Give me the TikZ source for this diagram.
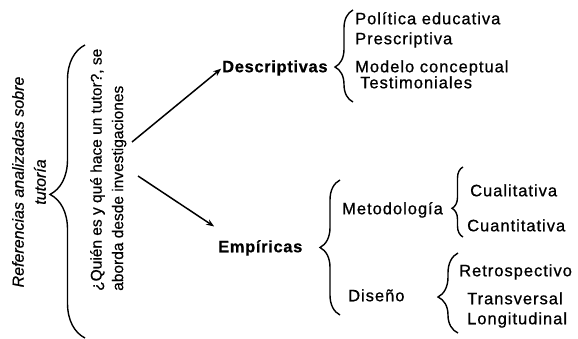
\documentclass[tikz,border=0pt]{standalone}
\usepackage{fontspec}
\setmainfont{Liberation Sans}
\newfontfamily\spacedfont[LetterSpace=6,FakeBold=0.8]{Liberation Sans}
\newfontfamily\headfont[LetterSpace=4,FakeBold=0.6]{Liberation Sans Bold}
\newfontfamily\rotfont[FakeBold=0.5]{Liberation Sans}
\usetikzlibrary{decorations.pathreplacing,arrows.meta}
\begin{document}
\begin{tikzpicture}[x=1pt,y=-1pt,
 item/.style={anchor=west,inner sep=0pt,font=\spacedfont\fontsize{16.5}{20}\selectfont,text height=12pt,text depth=3.5pt},
 head/.style={anchor=west,inner sep=0pt,font=\headfont\fontsize{16.5}{20}\selectfont,text height=12pt,text depth=3.5pt},
 brc/.style args={#1/#2}{decorate,decoration={brace,amplitude=#1,aspect=#2},line width=1.4pt},
 arr/.style={-{Stealth[length=8pt,width=6pt]},line width=1.5pt,shorten >=1pt},
 ]
\useasboundingbox[fill=white] (0,0) rectangle (578,339);
% rotated texts
\node[rotate=90, anchor=center, align=center, inner sep=0pt, font=\rotfont\itshape\fontsize{16}{22}\selectfont] (ref) at (29,182) {Referencias analizadas sobre\\tutoría};
\node[rotate=90, anchor=north west, align=left, inner sep=0pt, font=\rotfont\fontsize{15.5}{21.5}\selectfont] (q) at (90,291) {¿Quién es y qué hace un tutor?, se\\aborda desde investigaciones};
% heads
\node[head] (desc) at (222,68) {Descriptivas};
\node[head] (emp) at (218,248) {Empíricas};
% descriptivas items
\node[item] (pol) at (355,20) {Política educativa};
\node[item] (pre) at (355,40) {Prescriptiva};
\node[item] (mod) at (355,68) {Modelo conceptual};
\node[item] (tes) at (360,84) {Testimoniales};
% empiricas items
\node[item] (met) at (342,210) {Metodología};
\node[item] (cual) at (470,192) {Cualitativa};
\node[item] (cuan) at (467,227) {Cuantitativa};
\node[item] (dis) at (348,297) {Diseño};
\node[item] (ret) at (459,272) {Retrospectivo};
\node[item] (tra) at (467,300) {Transversal};
\node[item] (lon) at (467,320) {Longitudinal};
% braces
\draw[brc=35/0.49] (85,338) -- (85,45);
\draw[brc=18/0.38] (353,102) -- (353,10);
\draw[brc=20/0.5] (340,315) -- (340,180);
\draw[brc=11/0.41] (463,237) -- (463,167);
\draw[brc=20/0.45] (458,333) -- (458,253);
% arrows
\coordinate (s1) at (132,142);
\coordinate (s2) at (138,176);
\draw[arr] (s1) -- (desc.west);
\draw[arr] (s2) -- ([shift={(-3,-13)}]emp.north west);
\end{tikzpicture}
\end{document}
